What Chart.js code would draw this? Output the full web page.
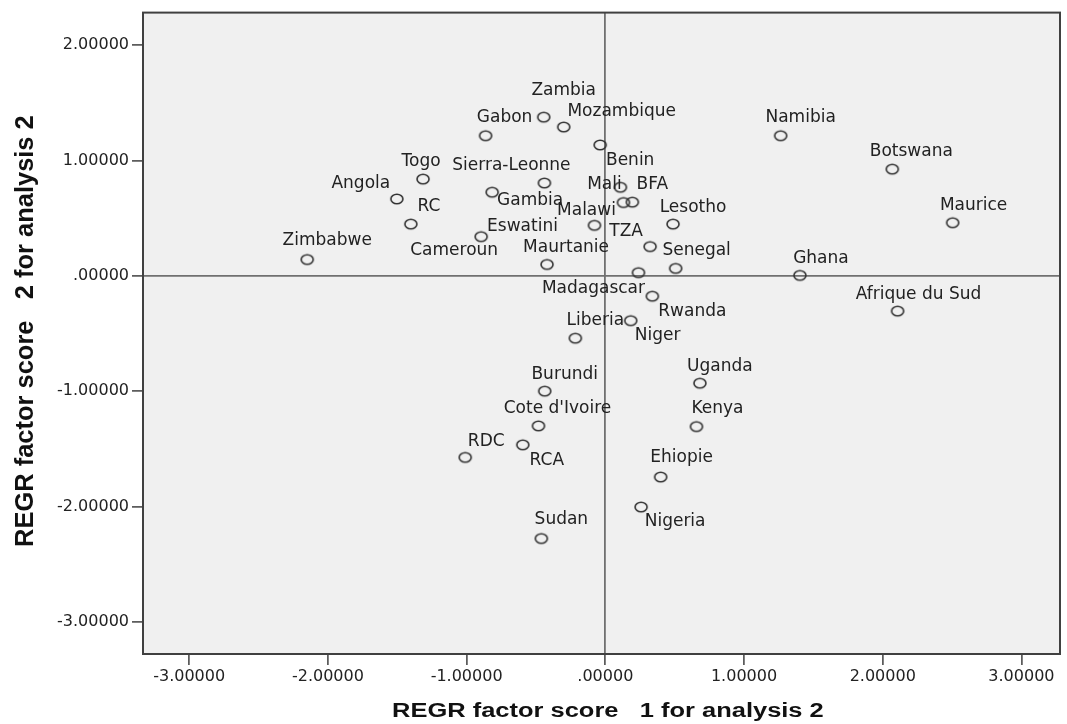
<!DOCTYPE html>
<html>
<head>
<meta charset="utf-8">
<script src="https://cdn.jsdelivr.net/npm/chart.js@4"></script>
<style>
  body { margin: 0; background: #fff; }
  #contenedor { width: 1067px; height: 724px; }
</style>
</head>
<body>
<div id="contenedor"><canvas id="grafico" width="1067" height="724"></canvas></div>
<script>
//datos
const paises = ['Zambia', 'Mozambique', 'Gabon', 'Namibia', 'Benin', 'Togo', 'Sierra-Leonne', 'Botswana',
  'Angola', 'Mali', 'BFA', 'Gambia', 'Malawi', 'Lesotho', 'RC', 'Maurice', 'Eswatini', 'TZA', 'Zimbabwe',
  'Cameroun', 'Maurtanie', 'Senegal', 'Ghana', 'Madagascar', 'Afrique du Sud', 'Rwanda', 'Liberia', 'Niger',
  'Uganda', 'Burundi', "Cote d'Ivoire", 'Kenya', 'RDC', 'RCA', 'Ehiopie', 'Sudan', 'Nigeria'];
const factor1 = [-0.444, -0.300, -0.863, 1.264, -0.037, -1.314, -0.439, 2.069,
  -1.503, 0.109, 0.195, -0.816, 0.131, 0.488, -1.402, 2.504, -0.078, 0.323, -2.149,
  -0.895, -0.420, 0.507, 1.403, 0.239, 2.107, 0.339, -0.216, 0.183,
  0.682, -0.437, -0.482, 0.657, -1.010, -0.595, 0.399, -0.461, 0.258];
const factor2 = [1.375, 1.289, 1.214, 1.214, 1.134, 0.838, 0.804, 0.924,
  0.666, 0.767, 0.638, 0.724, 0.635, 0.448, 0.448, 0.460, 0.437, 0.253, 0.141,
  0.339, 0.098, 0.064, 0.003, 0.027, -0.306, -0.177, -0.541, -0.389,
  -0.931, -1.000, -1.301, -1.307, -1.574, -1.465, -1.744, -2.277, -2.004];
const ticksX = [-3, -2, -1, 0, 1, 2, 3];
const ticksY = [-3, -2, -1, 0, 1, 2];
const tituloX = 'REGR factor score   1 for analysis 2';
const tituloY = 'REGR factor score   2 for analysis 2';

//donde va cada etiqueta respecto a su punto (px)
const etiquetaDx = [20, 58, 19, 20, 30, -2, -33, 19, -36, -16, 20, 38, -37, 20, 18, 21, -72, -24, 20,
  -27, 19, 21, 21, -45, 21, 40, 20, 27, 20, 20, 19, 21, 21, 24, 21, 20, 34];
const etiquetaDy = [-27, -15, -18, -18, 16, -18, -17, -18, -15, -3, -18, 8, 8, -17, -18, -17, 1, -15, -19,
  14, -17, -18, -17, 16, -17, 15, -18, 15, -17, -17, -17, -18, -16, 16, -19, -19, 15];

//formato SPSS: .00000, 1.00000, -1.00000
const formato = v => {
  let s = Math.abs(v).toFixed(5);
  if (s.startsWith('0')) s = s.slice(1);
  return (v < 0 ? '-' : '') + s;
};

//circulo abierto un poco ancho, como en la imagen original
const circulo = document.createElement('canvas');
circulo.width = 16;
circulo.height = 14;
const cc = circulo.getContext('2d');
cc.strokeStyle = '#333';
cc.lineWidth = 1.6;
cc.beginPath();
cc.ellipse(8, 7, 6, 4.8, 0, 0, Math.PI * 2);
cc.stroke();

const fondo = {
  id: 'fondo',
  beforeDraw(chart) {
    const { ctx, chartArea: a } = chart;
    ctx.save();
    ctx.fillStyle = '#f0f0f0';
    ctx.fillRect(a.left, a.top, a.right - a.left, a.bottom - a.top);
    ctx.restore();
  },
  afterDraw(chart) {
    const { ctx, chartArea: a } = chart;
    ctx.save();
    ctx.strokeStyle = '#404040';
    ctx.lineWidth = 2;
    ctx.strokeRect(a.left, a.top, a.right - a.left, a.bottom - a.top);

    //titulos de ejes, letra ancha como en el original
    ctx.fillStyle = '#111';
    ctx.font = 'bold 19.6px "Liberation Sans", Arial, sans-serif';
    ctx.textAlign = 'left';
    ctx.textBaseline = 'alphabetic';
    ctx.translate(392, 717);
    ctx.scale(1.3, 1);
    ctx.fillText(tituloX, 0, 0);
    ctx.setTransform(1, 0, 0, 1, 0, 0);
    ctx.translate(33, 547);
    ctx.rotate(-Math.PI / 2);
    ctx.scale(1.3, 1.3);
    ctx.fillText(tituloY, 0, 0);
    ctx.restore();
  }
};

const etiquetas = {
  id: 'etiquetas',
  afterDatasetsDraw(chart) {
    const ctx = chart.ctx;
    const puntos = chart.getDatasetMeta(0).data;
    ctx.save();
    ctx.font = '17px "DejaVu Sans", sans-serif';
    ctx.fillStyle = '#222';
    ctx.textAlign = 'center';
    ctx.textBaseline = 'middle';
    puntos.forEach((p, i) => {
      ctx.fillText(paises[i], p.x + etiquetaDx[i], p.y + etiquetaDy[i]);
    });
    ctx.restore();
  }
};

const rejilla = {
  drawOnChartArea: true,
  drawTicks: true,
  tickLength: 11,
  tickColor: '#404040',
  tickWidth: 1.5,
  lineWidth: 1.8,
  color: c => (c.tick && c.tick.value === 0) ? '#707070' : 'rgba(0,0,0,0)'
};

const fuenteTicks = { family: '"DejaVu Sans", sans-serif', size: 16 };

new Chart(document.getElementById('grafico'), {
  type: 'scatter',
  data: {
    datasets: [{
      label: 'paises',
      data: paises.map((p, i) => ({ x: factor1[i], y: factor2[i] })),
      pointStyle: circulo,
      pointRadius: 6,
      pointHoverRadius: 6
    }]
  },
  options: {
    responsive: false,
    animation: false,
    events: [],
    layout: { padding: { top: 8, right: 4, left: 0, bottom: 0 } },
    plugins: { legend: { display: false }, tooltip: { enabled: false } },
    scales: {
      x: {
        type: 'linear',
        min: -3.333,
        max: 3.278,
        border: { display: false },
        grid: rejilla,
        afterBuildTicks: s => { s.ticks = ticksX.map(v => ({ value: v })); },
        afterFit: s => { s.height = 70; },
        ticks: { color: '#222', font: fuenteTicks, padding: 2, maxRotation: 0, callback: formato }
      },
      y: {
        type: 'linear',
        min: -3.278,
        max: 2.281,
        border: { display: false },
        grid: rejilla,
        afterBuildTicks: s => { s.ticks = ticksY.map(v => ({ value: v })); },
        afterFit: s => { s.width = 143; },
        ticks: { color: '#222', font: fuenteTicks, padding: 3, callback: formato }
      }
    }
  },
  plugins: [fondo, etiquetas]
});
</script>
</body>
</html>
